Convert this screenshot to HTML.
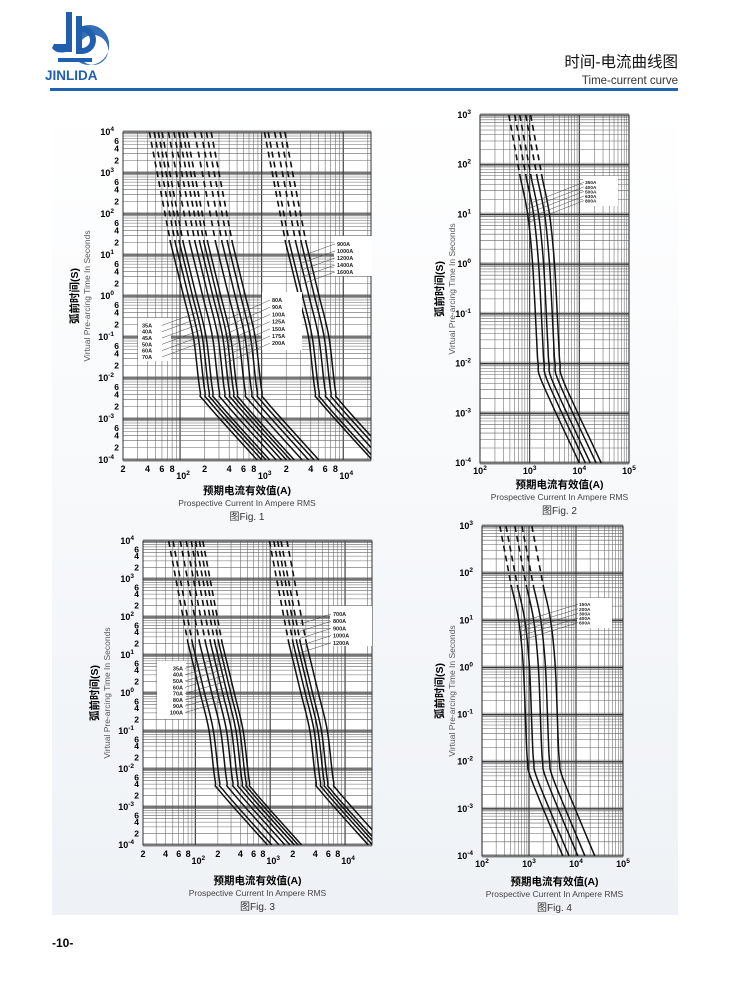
<!DOCTYPE html>
<html><head><meta charset="utf-8">
<style>
html,body{margin:0;padding:0;background:#fff;}
body{width:730px;height:990px;position:relative;overflow:hidden;font-family:"Liberation Sans","Noto Sans CJK SC",sans-serif;}
#panel{position:absolute;left:52px;top:100px;width:626px;height:815px;background:linear-gradient(#ffffff,#eef2f6);}
.t{position:absolute;white-space:nowrap;}
</style></head><body>
<div id="panel"></div>
<svg style="position:absolute;left:0;top:0" width="730" height="100">
 <g fill="#1f5fae">
  <rect x="66" y="12" width="6" height="40"/>
  <path d="M54 44 h12 v8 q-10 2 -14 -4z"/>
  <rect x="76" y="16" width="6" height="38"/>
  <path d="M82 26 a14 14 0 0 1 0 28 v-6 a8 8 0 0 0 0 -16z"/>
  <path d="M76 30 a20 20 0 1 1 0 30 h6 a15 15 0 1 0 0 -20z" opacity="0.9"/>
  <rect x="58" y="58" width="34" height="4"/>
 </g>
 <text x="45" y="80" font-family="Liberation Sans" font-weight="bold" font-size="13.5" fill="#1f5fae">JINLIDA</text>
 <rect x="50" y="88" width="628" height="3" fill="#1f64b0"/>
 <text x="678" y="67" text-anchor="end" font-family="Liberation Sans,Noto Sans CJK SC,sans-serif" font-size="15.5" fill="#111">时间-电流曲线图</text>
 <text x="678" y="84" text-anchor="end" font-family="Liberation Sans" font-size="11.5" fill="#333">Time-current curve</text>
</svg>
<svg id="s" style="position:absolute;left:0;top:0" width="730" height="990"></svg>
<div class="t" style="left:52px;top:936px;font-weight:bold;font-size:12px;">-10-</div>
<script>
var NS="http://www.w3.org/2000/svg",S=document.getElementById('s');
function el(n,a,p,txt){var e=document.createElementNS(NS,n);for(var k in a)e.setAttribute(k,a[k]);if(txt!=null)e.textContent=txt;(p||S).appendChild(e);return e;}
function L(x){return Math.log10(x);}
function cr(pts){var d="M"+pts[0][0]+" "+pts[0][1];for(var i=0;i<pts.length-1;i++){var p0=pts[i-1]||pts[i],p1=pts[i],p2=pts[i+1],p3=pts[i+2]||p2;
 var c1=[p1[0]+(p2[0]-p0[0])/6,p1[1]+(p2[1]-p0[1])/6],c2=[p2[0]-(p3[0]-p1[0])/6,p2[1]-(p3[1]-p1[1])/6];
 d+=" C"+c1[0].toFixed(1)+" "+c1[1].toFixed(1)+" "+c2[0].toFixed(1)+" "+c2[1].toFixed(1)+" "+p2[0].toFixed(1)+" "+p2[1].toFixed(1);}return d;}
var cid=0;
function chart(c){
 var px=function(l){return c.x0+(l-c.xmin)/(c.xmax-c.xmin)*c.w;},py=function(l){return c.y0+(c.ymax-l)/(c.ymax-c.ymin)*c.h;};
 var g=el('g',{});
 el('rect',{x:c.x0,y:c.y0,width:c.w,height:c.h,fill:'#fff'},g);
 for(var d=c.ymin;d<=c.ymax;d++){var y=py(d);el('rect',{x:c.x0,y:y-2,width:c.w,height:4,fill:'#bbb'},g);}
 for(var d=Math.floor(c.xmin);d<=Math.ceil(c.xmax);d++)for(var m=1;m<10;m++){var l=d+L(m);if(l<c.xmin||l>c.xmax)continue;
  el('line',{x1:px(l),x2:px(l),y1:c.y0,y2:c.y0+c.h,stroke:m==1?'#333':'#666','stroke-width':m==1?1.1:0.55},g);}
 for(var d=c.ymin;d<=c.ymax;d++)for(var m=1;m<10;m++){var l=d+L(m);if(l>c.ymax)continue;
  el('line',{x1:c.x0,x2:c.x0+c.w,y1:py(l),y2:py(l),stroke:m==1?'#333':'#666','stroke-width':m==1?1.1:0.55},g);}
 el('rect',{x:c.x0,y:c.y0,width:c.w,height:c.h,fill:'none',stroke:'#333','stroke-width':1},g);
 cid++;var cp=el('clipPath',{id:'c'+cid},g);el('rect',{x:c.x0,y:c.y0,width:c.w,height:c.h},cp);
 var cg=el('g',{'clip-path':'url(#c'+cid+')'},g);
 c.pos.forEach(function(r){
  var P=c.shape.map(function(p){return [px(r+p[0]),py(p[1])];});
  el('line',{x1:P[0][0],y1:P[0][1],x2:P[1][0],y2:P[1][1],stroke:'#111','stroke-width':1.6,'stroke-dasharray':'6,4'},cg);
  el('path',{d:cr(P.slice(1)),fill:'none',stroke:'#111','stroke-width':1.5},cg);
 });
 c.boxes.forEach(function(b){
  el('rect',{x:b.x,y:b.y,width:b.w,height:b.h,fill:'#fff'},g);
  var step=b.step;
  b.labels.forEach(function(t,i){var ty=b.y+5+step*(i+0.7);
   el('text',{x:b.tx,y:ty,'font-size':b.fs,'font-weight':'bold','font-family':'Liberation Sans',fill:'#222','text-anchor':b.anchor||'start'},g,t);
   el('line',{x1:b.lx,y1:ty-2,x2:b.ex,y2:ty-2+b.dy,stroke:'#444','stroke-width':0.5},g);});
 });
 var X1=c.y0+c.h;
 for(var d=Math.floor(c.xmin);d<=Math.ceil(c.xmax);d++){
  if(c.minor)[2,4,6,8].forEach(function(m){var l=d+L(m);if(l<c.xmin-0.01||l>c.xmax-0.06)return;
   el('text',{x:px(l),y:X1+12,'font-size':9,'font-weight':'bold','text-anchor':'middle'},g,m);});
  if(d<c.xmin-0.01||d>c.xmax)continue;
  var t=el('text',{x:px(d)+(c.minor?3:0),y:X1+(c.minor?19:11),'font-size':9,'font-weight':'bold','text-anchor':'middle'},g,'10');
  el('tspan',{dy:-4,'font-size':6.5},t,String(d));
 }
 for(var d=c.ymin;d<=c.ymax;d++){
  var t=el('text',{x:c.x0-9,y:py(d)+3,'font-size':9,'font-weight':'bold','text-anchor':'end'},g,'10');
  el('tspan',{dy:-4,'font-size':6.5},t,String(d));
  if(c.minor&&d<c.ymax)[2,4,6].forEach(function(m){el('text',{x:c.x0-4,y:py(d+L(m))+3,'font-size':8.5,'font-weight':'bold','text-anchor':'end'},g,m);});
 }
 var cx=c.x0+c.w/2+(c.tdx||0),cy=c.y0+c.h/2;
 el('text',{x:cx,y:X1+c.t1,'font-size':10.5,'font-weight':'bold','text-anchor':'middle','font-family':'Liberation Sans,Noto Sans CJK SC,sans-serif'},g,'预期电流有效值(A)');
 el('text',{x:cx,y:X1+c.t1+12,'font-size':8.5,fill:'#444','text-anchor':'middle'},g,'Prospective Current In Ampere RMS');
 el('text',{x:cx,y:X1+c.t1+26,'font-size':10,fill:'#333','text-anchor':'middle','font-family':'Liberation Sans,Noto Sans CJK SC,sans-serif'},g,'图Fig. '+c.n);
 el('text',{x:0,y:0,transform:'translate('+c.yx+','+cy+') rotate(-90)','font-size':10.5,'font-weight':'bold','text-anchor':'middle','font-family':'Liberation Sans,Noto Sans CJK SC,sans-serif'},g,'弧前时间(S)');
 el('text',{x:0,y:0,transform:'translate('+(c.yx+12)+','+cy+') rotate(-90)','font-size':8.5,fill:'#555','text-anchor':'middle'},g,'Virtual Pre-arcing Time In Seconds');
}
var sh1=[[0.08,4],[0.34,1.3],[0.50,0],[0.62,-1],[0.70,-2.3],[0.77,-2.6],[1.40,-4]];
chart({n:1,x0:123,y0:132,w:248,h:328,xmin:L(20),xmax:4.34,ymin:-4,ymax:4,minor:true,shape:sh1,
 pos:[35,40,45,50,60,70,80,90,100,125,150,175,200,900,1000,1200,1400,1600].map(L),
 t1:34,yx:78,
 boxes:[{x:138,y:318,w:33,h:43,tx:142,labels:['35A','40A','45A','50A','60A','70A'],step:6.3,fs:5.5,lx:162,ex:200,dy:-14},
 {x:262,y:292,w:40,h:58,tx:272,labels:['80A','90A','100A','125A','150A','175A','200A'],step:7.2,fs:5.5,lx:270,ex:225,dy:20},
 {x:334,y:236,w:38,h:40,tx:337,labels:['900A','1000A','1200A','1400A','1600A'],step:7,fs:5.5,lx:335,ex:302,dy:12}]});
var sh2=[[0.04,3],[0.28,1.7],[0.42,1],[0.52,0],[0.60,-1.5],[0.63,-2],[0.72,-2.4],[1.46,-4]];
chart({n:2,x0:480,y0:115,w:149,h:348,xmin:2,xmax:5,ymin:-4,ymax:3,minor:false,shape:sh2,
 pos:[2.54,2.66,2.76,2.88,2.98],t1:25,yx:443,tdx:5,
 boxes:[{x:583,y:176,w:35,h:30,tx:585,labels:['350A','400A','500A','630A','800A'],step:4.6,fs:4.8,lx:584,ex:528,dy:22}]});
chart({n:3,x0:143,y0:541,w:229,h:304,xmin:L(20),xmax:4.36,ymin:-4,ymax:4,minor:true,shape:sh1.map(function(p){return [p[0]+0.02,p[1]];}),
 pos:[35,40,50,60,70,80,90,100,700,800,900,1000,1200].map(function(v,i){return L(v)+(i>7?0.045:0);}),t1:39,yx:98,
 boxes:[{x:157,y:661,w:29,h:58,tx:183,anchor:'end',labels:['35A','40A','50A','60A','70A','80A','90A','100A'],step:6.3,fs:5.5,lx:185,ex:225,dy:-12},
 {x:330,y:606,w:42,h:40,tx:333,labels:['700A','800A','900A','1000A','1200A'],step:7.2,fs:5.5,lx:331,ex:300,dy:10}]});
var sh4=[[0.2,3],[0.45,1.7],[0.6,1],[0.7,0],[0.76,-1.5],[0.79,-2],[0.88,-2.4],[1.54,-4]];
chart({n:4,x0:482,y0:526,w:141,h:330,xmin:2,xmax:5,ymin:-4,ymax:3,minor:false,shape:sh4,
 pos:[2.18,2.31,2.5,2.65,2.86],t1:29,yx:443,tdx:2,
 boxes:[{x:577,y:598,w:35,h:30,tx:579,labels:['150A','200A','300A','400A','600A'],step:4.6,fs:4.8,lx:578,ex:520,dy:18}]});
</script>
</body></html>
